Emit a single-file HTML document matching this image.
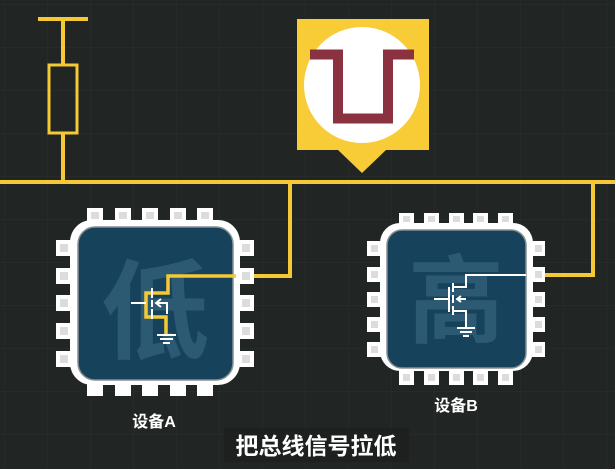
<!DOCTYPE html>
<html><head><meta charset="utf-8"><style>
html,body{margin:0;padding:0;background:#212524;}
svg{display:block}
</style></head><body>
<svg width="615" height="469" viewBox="0 0 615 469" xmlns="http://www.w3.org/2000/svg">
<defs>
<pattern id="g" width="43" height="43" patternUnits="userSpaceOnUse" x="5" y="5">
<path d="M43 0V43M0 43H43" stroke="#2b302e" stroke-width="1" fill="none"/>
</pattern>
</defs>
<rect width="615" height="469" fill="#212524"/>
<rect width="615" height="469" fill="url(#g)"/>
<!-- resistor -->
<g stroke="#f5c935" stroke-width="4" fill="none">
<line x1="38" y1="19" x2="88" y2="19"/>
<line x1="63" y1="19" x2="63" y2="65"/>
<rect x="49" y="65" width="28" height="68" stroke-width="3"/>
<line x1="63" y1="133" x2="63" y2="182"/>
<line x1="0" y1="182" x2="615" y2="182"/>
<polyline points="290,182 290,276 250,276"/>
<polyline points="593,182 593,275 545,275"/>
</g>
<!-- tag -->
<rect x="297" y="19" width="132" height="131" fill="#f8cc36"/>
<polygon points="338,150 386,150 362,173" fill="#f8cc36"/>
<circle cx="362" cy="85" r="58" fill="#fff"/>
<path d="M310 54.5H338V118.5H388V54.5H414" stroke="#8b3241" stroke-width="10" fill="none"/>
<!-- chip A -->
<g fill="#fff">
<rect x="87" y="208" width="16" height="16"/><rect x="115" y="208" width="16" height="16"/><rect x="142" y="208" width="16" height="16"/><rect x="170" y="208" width="16" height="16"/><rect x="197" y="208" width="16" height="16"/>
<rect x="87" y="380" width="16" height="16"/><rect x="115" y="380" width="16" height="16"/><rect x="142" y="380" width="16" height="16"/><rect x="170" y="380" width="16" height="16"/><rect x="197" y="380" width="16" height="16"/>
<rect x="56" y="240" width="18" height="16"/><rect x="56" y="268" width="18" height="16"/><rect x="56" y="295" width="18" height="16"/><rect x="56" y="323" width="18" height="16"/><rect x="56" y="351" width="18" height="16"/>
<rect x="236" y="240" width="18" height="16"/><rect x="236" y="268" width="18" height="16"/><rect x="236" y="295" width="18" height="16"/><rect x="236" y="323" width="18" height="16"/><rect x="236" y="351" width="18" height="16"/>
<rect x="70" y="220" width="170" height="165" rx="22"/>
</g>
<g fill="#dcdcdc">
<rect x="91" y="212" width="8" height="7"/><rect x="119" y="212" width="8" height="7"/><rect x="146" y="212" width="8" height="7"/><rect x="174" y="212" width="8" height="7"/><rect x="201" y="212" width="8" height="7"/>
<rect x="60" y="244" width="8" height="8"/><rect x="60" y="272" width="8" height="8"/><rect x="60" y="299" width="8" height="8"/><rect x="60" y="327" width="8" height="8"/><rect x="60" y="355" width="8" height="8"/>
<rect x="242" y="244" width="8" height="8"/><rect x="242" y="272" width="8" height="8"/><rect x="242" y="299" width="8" height="8"/><rect x="242" y="327" width="8" height="8"/><rect x="242" y="355" width="8" height="8"/>
</g>
<rect x="78" y="227" width="155" height="153" rx="17" fill="#17425c" stroke="#8a8f92" stroke-width="1.5"/>
<text x="155" y="350" text-anchor="middle" font-family="'Noto Sans CJK SC',sans-serif" font-weight="bold" font-size="108" fill="#2d5a73">低</text>
<polyline points="236,276 168,276 168,293 146,293 146,317 166,317 166,334" stroke="#f5c935" stroke-width="3.5" fill="none"/>
<g stroke="#fff" stroke-width="2" fill="none">
<line x1="131" y1="303" x2="146" y2="303"/>
<line x1="152" y1="288" x2="152" y2="298"/><line x1="152" y1="300" x2="152" y2="307"/><line x1="152" y1="309" x2="152" y2="319"/>
<polyline points="157,303 167,303 167,314"/>
<polyline points="161,299 156,303 161,307"/>
<line x1="157" y1="335" x2="176" y2="335"/><line x1="160" y1="339" x2="173" y2="339"/><line x1="163" y1="343" x2="170" y2="343"/>
</g>
<!-- chip B -->
<g fill="#fff">
<rect x="399" y="213" width="15" height="15"/><rect x="424" y="213" width="15" height="15"/><rect x="449" y="213" width="15" height="15"/><rect x="473" y="213" width="15" height="15"/><rect x="498" y="213" width="15" height="15"/>
<rect x="399" y="370" width="15" height="15"/><rect x="424" y="370" width="15" height="15"/><rect x="449" y="370" width="15" height="15"/><rect x="473" y="370" width="15" height="15"/><rect x="498" y="370" width="15" height="15"/>
<rect x="367" y="241" width="16" height="15"/><rect x="367" y="267" width="16" height="15"/><rect x="367" y="292" width="16" height="15"/><rect x="367" y="317" width="16" height="15"/><rect x="367" y="342" width="16" height="15"/>
<rect x="529" y="241" width="16" height="15"/><rect x="529" y="267" width="16" height="15"/><rect x="529" y="292" width="16" height="15"/><rect x="529" y="317" width="16" height="15"/><rect x="529" y="342" width="16" height="15"/>
<rect x="380" y="223" width="153" height="148" rx="20"/>
</g>
<g fill="#dcdcdc">
<rect x="403" y="216" width="7" height="6"/><rect x="428" y="216" width="7" height="6"/><rect x="453" y="216" width="7" height="6"/><rect x="477" y="216" width="7" height="6"/><rect x="502" y="216" width="7" height="6"/>
<rect x="403" y="374" width="7" height="7"/><rect x="428" y="374" width="7" height="7"/><rect x="453" y="374" width="7" height="7"/><rect x="477" y="374" width="7" height="7"/><rect x="502" y="374" width="7" height="7"/>
<rect x="371" y="245" width="7" height="7"/><rect x="371" y="271" width="7" height="7"/><rect x="371" y="296" width="7" height="7"/><rect x="371" y="321" width="7" height="7"/><rect x="371" y="346" width="7" height="7"/>
<rect x="535" y="245" width="7" height="7"/><rect x="535" y="271" width="7" height="7"/><rect x="535" y="296" width="7" height="7"/><rect x="535" y="321" width="7" height="7"/><rect x="535" y="346" width="7" height="7"/>
</g>
<rect x="387" y="230" width="139" height="138" rx="15" fill="#17425c" stroke="#8a8f92" stroke-width="1.5"/>
<text x="456" y="335" text-anchor="middle" font-family="'Noto Sans CJK SC',sans-serif" font-weight="bold" font-size="96" fill="#2d5a73">高</text>
<g stroke="#fff" stroke-width="2" fill="none">
<polyline points="526,275 466,275 466,287 453,287"/>
<line x1="434" y1="299" x2="449" y2="299"/>
<line x1="449" y1="287" x2="449" y2="312"/>
<line x1="453" y1="283" x2="453" y2="292"/><line x1="453" y1="295" x2="453" y2="303"/><line x1="453" y1="306" x2="453" y2="315"/>
<polyline points="457,299 466,299"/>
<polyline points="461,296 457,299 461,302"/>
<polyline points="453,311 466,311 466,328"/>
<line x1="457" y1="328" x2="475" y2="328"/><line x1="460" y1="332" x2="472" y2="332"/><line x1="463" y1="336" x2="469" y2="336"/>
</g>
<!-- labels -->
<text x="154" y="427" text-anchor="middle" font-family="'Liberation Sans','Noto Sans CJK SC',sans-serif" font-weight="bold" font-size="16" fill="#fff">设备A</text>
<text x="456" y="411" text-anchor="middle" font-family="'Liberation Sans','Noto Sans CJK SC',sans-serif" font-weight="bold" font-size="16" fill="#fff">设备B</text>
<rect x="224" y="428" width="185" height="34" fill="#1d201f"/>
<text x="316" y="454" text-anchor="middle" font-family="'Noto Sans CJK SC',sans-serif" font-weight="bold" font-size="23" fill="#fff">把总线信号拉低</text>
</svg>
</body></html>
